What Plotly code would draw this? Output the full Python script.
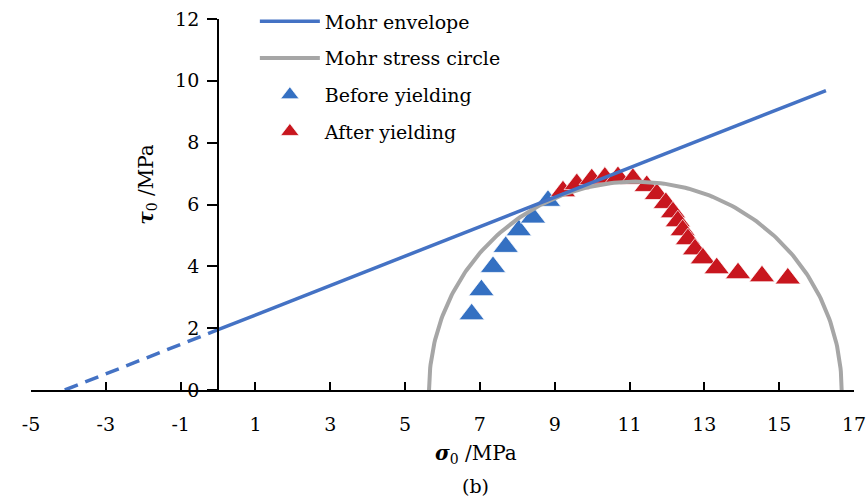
import numpy as np
import plotly.graph_objects as go

# Stress states read from the triaxial test (sigma_0, tau_0 in MPa)
sigma_before = [6.78, 7.04, 7.35, 7.69, 8.04, 8.42, 8.82]
tau_before = [2.45, 3.23, 3.98, 4.63, 5.17, 5.58, 6.12]

sigma_after = [9.22, 9.59, 9.99, 10.34, 10.69, 11.09, 11.46, 11.73, 11.97, 12.16,
               12.29, 12.42, 12.56, 12.75, 12.96, 13.33, 13.90, 14.54, 15.23]
tau_after = [6.43, 6.66, 6.82, 6.87, 6.89, 6.83, 6.60, 6.34, 6.05, 5.75,
             5.46, 5.17, 4.88, 4.55, 4.26, 3.94, 3.78, 3.68, 3.61]

# Mohr envelope: tau = c + sigma * tan(phi)
cohesion = 1.95
tan_phi = 0.476
sigma_env_end = 16.25

# Mohr stress circle between the principal stresses
sigma_3 = 5.64
sigma_1 = 16.67
circle_peak = 6.74

x_tickvals = [-5, -3, -1, 1, 3, 5, 7, 9, 11, 13, 15, 17]
x_ticktext = ["-5", "-3", "-1", "1", "3", "5", "7", "9", "11", "13", "15", "17"]
y_tickvals = [0, 2, 4, 6, 8, 10, 12]

BLUE_LINE = "#4472C4"
BLUE_MARK = "#3470C2"
RED_MARK = "#C8161E"
GREY = "#A6A6A6"
FONT = "DejaVu Serif"

sigma_env_start = -cohesion / tan_phi
env_solid_x = [0.0, sigma_env_end]
env_solid_y = [cohesion + tan_phi * s for s in env_solid_x]
env_dash_x = [sigma_env_start, 0.0]
env_dash_y = [cohesion + tan_phi * s for s in env_dash_x]

theta = np.linspace(np.pi, 0, 181)
centre = (sigma_1 + sigma_3) / 2
half_width = (sigma_1 - sigma_3) / 2
circle_x = centre + half_width * np.cos(theta)
circle_y = circle_peak * np.sin(theta)

marker_edge = dict(color="rgba(255,255,255,0.7)", width=1)

fig = go.Figure()

fig.add_trace(go.Scatter(
    x=sigma_before, y=tau_before, mode="markers", name="Before yielding",
    marker=dict(symbol="triangle-up", size=22, color=BLUE_MARK, line=marker_edge),
    legendgroup="g3", legendrank=3, cliponaxis=False))

fig.add_trace(go.Scatter(
    x=sigma_after, y=tau_after, mode="markers", name="After yielding",
    marker=dict(symbol="triangle-up", size=22, color=RED_MARK, line=marker_edge),
    legendgroup="g4", legendrank=4, cliponaxis=False))

fig.add_trace(go.Scatter(
    x=circle_x, y=circle_y, mode="lines", name="Mohr stress circle",
    line=dict(color=GREY, width=4), legendgroup="g2", legendrank=2,
    cliponaxis=False))

fig.add_trace(go.Scatter(
    x=env_dash_x, y=env_dash_y, mode="lines", showlegend=False,
    line=dict(color=BLUE_LINE, width=3.5, dash="14px,8px"), cliponaxis=False))

fig.add_trace(go.Scatter(
    x=env_solid_x, y=env_solid_y, mode="lines", name="Mohr envelope",
    line=dict(color=BLUE_LINE, width=3.5), legendgroup="g1", legendrank=1,
    cliponaxis=False))

fig.update_layout(
    width=866, height=498,
    margin=dict(l=31, r=12, t=19, b=108, autoexpand=False),
    paper_bgcolor="white", plot_bgcolor="white",
    font=dict(family=FONT, size=18, color="black"),
    showlegend=True,
    legend=dict(x=0.272, y=0.995, xanchor="left", yanchor="top", yref="container",
                bgcolor="rgba(0,0,0,0)", font=dict(size=19, family=FONT),
                itemwidth=60, traceorder="grouped", tracegroupgap=9),
    xaxis=dict(range=[-5, 17], tickvals=x_tickvals, ticktext=x_ticktext,
               ticks="inside", ticklen=8, tickwidth=2, tickcolor="black",
               showline=True, linecolor="black", linewidth=2, showgrid=False,
               zeroline=False, ticklabelstandoff=16, ticklabeloverflow="allow",
               tickfont=dict(size=19)),
    yaxis=dict(range=[0, 12], tickvals=y_tickvals, ticks="outside", ticklen=10,
               tickwidth=2, tickcolor="black", showline=True, linecolor="black",
               linewidth=2, showgrid=False, zeroline=False,
               anchor="free", position=5 / 22, ticklabelstandoff=4,
               ticklabeloverflow="allow", tickfont=dict(size=19)),
)

fig.add_annotation(text="<b><i>σ</i></b><sub>0</sub> /MPa", xref="paper", yref="paper",
                   x=0.5405, y=-0.1715, xanchor="center", yanchor="middle",
                   showarrow=False, font=dict(size=20))
fig.add_annotation(text="<b><i>τ</i></b><sub>0</sub> /MPa", xref="paper", yref="paper",
                   x=0.1406, y=0.555, xanchor="center", yanchor="middle",
                   showarrow=False, textangle=-90, font=dict(size=20))
fig.add_annotation(text="(b)", xref="paper", yref="paper",
                   x=0.5405, y=-0.258, xanchor="center", yanchor="middle",
                   showarrow=False, font=dict(size=19))

fig.write_html("out.html")
